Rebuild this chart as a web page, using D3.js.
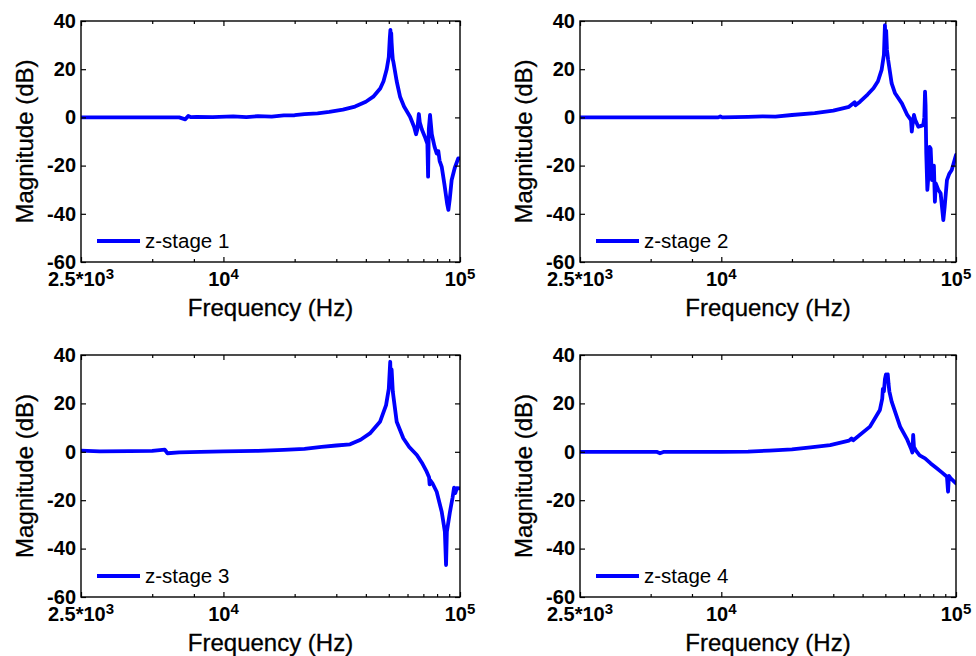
<!DOCTYPE html>
<html>
<head>
<meta charset="utf-8">
<script src="https://cdn.jsdelivr.net/npm/d3@7"></script>
<style>
  html, body { margin: 0; padding: 0; background: #fff; }
  svg { display: block; }
  .tick-label { font-family: "Liberation Sans", Arial, sans-serif; font-weight: bold; font-size: 20px; fill: #000; }
  .axis-title { font-family: "Liberation Sans", Arial, sans-serif; font-size: 24px; fill: #000; stroke: #000; stroke-width: 0.3px; }
  .legend-text { font-family: "Liberation Sans", Arial, sans-serif; font-size: 20.5px; fill: #000; }
</style>
</head>
<body>
<svg id="chart" width="976" height="656"></svg>
<script>
// Axis ticks
const freqMajorTicks = [2500, 1e4, 1e5];
const freqMajorLabels = [["2.5*10", "3"], ["10", "4"], ["10", "5"]];
const freqMinorTicks = [5000, 7500, 20000, 30000, 40000, 50000, 60000, 70000, 80000, 90000];
const magTicks = [-60, -40, -20, 0, 20, 40];

// Series names
const stageNames = ["z-stage 1", "z-stage 2", "z-stage 3", "z-stage 4"];

// z-stage 1: frequency (Hz) and magnitude (dB)
const freq1 = [2500, 4000, 6500, 6900, 7100, 7300, 7700, 9000, 11000, 12500, 14000, 16000, 18000, 20000, 22000, 25000, 28000, 32000, 36000, 40000, 43000, 46000, 47500, 49000, 50000, 50500, 50800, 51000, 51200, 51400, 51700, 52000, 52300, 54000, 55800, 58000, 61500, 64000, 65200, 66000, 67000, 67600, 69000, 71000, 72800, 73300, 73800, 74700, 76000, 78000, 79700, 81000, 82000, 83700, 86000, 88300, 89300, 90500, 92200, 95000, 98300, 100000];
const mag1 = [0, 0, 0, -0.8, 0.6, 0.1, 0.2, 0.1, 0.4, 0.1, 0.5, 0.3, 0.8, 0.9, 1.4, 1.7, 2.3, 3.2, 4.5, 6.5, 8.6, 12, 15, 20, 25, 33, 36.3, 29, 35, 31, 27, 24, 23, 15, 8.6, 4.5, 0.3, -4, -7, -5, 1.4, -2, -5, -8, -11, -24.6, -5, 1.0, -7, -12, -15, -14, -18, -20.5, -28, -36, -38.4, -34, -26, -21, -17, -17];

// z-stage 2
const freq2 = [2500, 9700, 9900, 10100, 13000, 15000, 17000, 20000, 25000, 30000, 35000, 37000, 37300, 39000, 42000, 44500, 46500, 48200, 49300, 49800, 50100, 50400, 50800, 51400, 53200, 55000, 58800, 62000, 64300, 64800, 65300, 66200, 67000, 69100, 71000, 72500, 73300, 73800, 74200, 74700, 75500, 76200, 77200, 78000, 79000, 80500, 81300, 82000, 84000, 86000, 88300, 89500, 91500, 93500, 95900, 100000];
const mag2 = [0, 0, 0.4, 0, 0.2, 0.4, 0.3, 1.0, 1.8, 2.8, 4.4, 6.3, 5, 6.5, 9.5, 12.1, 15, 19.7, 26, 38.3, 30, 36, 28, 23.8, 14.1, 10, 5.8, 1, -1.1, -5.9, -3, 1.0, -1, -3.9, -3.5, -3.2, 0, 10.7, 5, -15, -30.1, -25, -12.2, -13, -26, -20, -35, -27.4, -30, -31.5, -42.6, -37, -26, -23.5, -21.8, -15.6];

// z-stage 3
const freq3 = [2500, 3000, 4000, 5000, 5650, 5800, 6500, 8000, 10000, 14000, 18000, 22000, 26000, 30000, 34300, 38000, 41600, 45900, 48700, 50000, 50700, 51000, 51400, 52000, 54000, 57600, 61000, 65700, 69000, 72300, 74000, 74400, 74800, 76500, 79700, 83700, 86300, 87300, 88000, 90700, 93000, 94400, 95500, 97000, 100000];
const mag3 = [0.5, 0.2, 0.3, 0.4, 0.9, -0.6, -0.2, 0, 0.2, 0.4, 0.8, 1.2, 2.0, 2.6, 3.1, 5, 7.6, 12.4, 19.3, 26, 37.2, 28, 34, 24.8, 12.4, 5.6, 2, -1.3, -4.5, -8.2, -10.5, -13.5, -11.7, -13, -16.5, -24.8, -33, -46.8, -33, -24.8, -19, -14.8, -17.1, -15, -15.1];

// z-stage 4
const freq4 = [2500, 5300, 5480, 5700, 10000, 13000, 16000, 20000, 24000, 29100, 35000, 35900, 36500, 43000, 47400, 48500, 48800, 49300, 49800, 50300, 50700, 51200, 51600, 52000, 53200, 57800, 62000, 64500, 65200, 65700, 66200, 67500, 70000, 73800, 78000, 82800, 87000, 91500, 92500, 93300, 95000, 100000];
const mag4 = [0, 0, -0.6, 0, 0, 0.1, 0.5, 1, 1.8, 2.8, 4.6, 5.5, 4.8, 10.4, 17.3, 22, 26, 25, 30, 32, 31, 32, 28, 25, 20.7, 10.4, 5, 1, -0.3, 7, 2, 0.5, -1.5, -2.7, -4.8, -6.8, -8.5, -10.3, -16.5, -10, -11, -13];

const seriesFreq = [freq1, freq2, freq3, freq4];
const seriesMag = [mag1, mag2, mag3, mag4];

// Plot rectangles for the 2x2 grid
const panels = [
  { left: 81, top: 21, width: 379, height: 241 },
  { left: 580, top: 21, width: 376, height: 241 },
  { left: 81, top: 355, width: 379, height: 242 },
  { left: 580, top: 355, width: 376, height: 242 }
];

const svg = d3.select("#chart");
const lineColor = "#0000ff";

panels.forEach((p, i) => {
  const x = d3.scaleLog().domain([2500, 1e5]).range([0, p.width]);
  const y = d3.scaleLinear().domain([-60, 40]).range([p.height, 0]);
  const g = svg.append("g").attr("transform", `translate(${p.left},${p.top})`);

  const clipId = "clip" + i;
  g.append("clipPath").attr("id", clipId)
    .append("rect").attr("x", 0).attr("y", -2).attr("width", p.width).attr("height", p.height + 4);

  // Data line
  const pts = seriesFreq[i].map((f, k) => [f, seriesMag[i][k]]);
  g.append("path")
    .datum(pts)
    .attr("clip-path", `url(#${clipId})`)
    .attr("fill", "none")
    .attr("stroke", lineColor)
    .attr("stroke-width", 3.8)
    .attr("stroke-linejoin", "round")
    .attr("stroke-linecap", "round")
    .attr("d", d3.line().x(d => x(d[0])).y(d => y(d[1])));

  // Inward ticks on all four sides
  const styleAxis = sel => {
    sel.select(".domain").remove();
    sel.selectAll(".tick line").attr("stroke", "#000").attr("stroke-width", 1.2);
    sel.selectAll(".tick text").remove();
  };
  g.append("g").attr("transform", `translate(0,${p.height})`)
    .call(d3.axisBottom(x).tickValues(freqMajorTicks).tickSize(-5).tickFormat("")).call(styleAxis);
  g.append("g").attr("transform", `translate(0,${p.height})`)
    .call(d3.axisBottom(x).tickValues(freqMinorTicks).tickSize(-3).tickFormat("")).call(styleAxis);
  g.append("g")
    .call(d3.axisTop(x).tickValues(freqMajorTicks).tickSize(-5).tickFormat("")).call(styleAxis);
  g.append("g")
    .call(d3.axisTop(x).tickValues(freqMinorTicks).tickSize(-3).tickFormat("")).call(styleAxis);
  g.append("g")
    .call(d3.axisLeft(y).tickValues(magTicks).tickSize(-5).tickFormat("")).call(styleAxis);
  g.append("g").attr("transform", `translate(${p.width},0)`)
    .call(d3.axisRight(y).tickValues(magTicks).tickSize(-5).tickFormat("")).call(styleAxis);

  // Box
  g.append("rect").attr("x", 0).attr("y", 0).attr("width", p.width).attr("height", p.height)
    .attr("fill", "none").attr("stroke", "#000").attr("stroke-width", 1.4);

  // Y tick labels
  g.selectAll(".ylab").data(magTicks).enter().append("text")
    .attr("class", "tick-label")
    .attr("x", -5)
    .attr("y", d => y(d))
    .attr("dy", "0.34em")
    .attr("text-anchor", "end")
    .text(d => d);

  // X tick labels with superscript exponents
  freqMajorTicks.forEach((f, k) => {
    const t = g.append("text")
      .attr("class", "tick-label")
      .attr("x", x(f))
      .attr("y", p.height + 24)
      .attr("text-anchor", "middle");
    t.append("tspan").text(freqMajorLabels[k][0]);
    t.append("tspan").attr("dy", -7).attr("font-size", "15px").text(freqMajorLabels[k][1]);
  });

  // Axis titles
  g.append("text").attr("class", "axis-title")
    .attr("x", p.width / 2).attr("y", p.height + 54)
    .attr("text-anchor", "middle")
    .text("Frequency (Hz)");
  g.append("text").attr("class", "axis-title")
    .attr("transform", `translate(-48,${p.height / 2}) rotate(-90)`)
    .attr("text-anchor", "middle")
    .text("Magnitude (dB)");

  // Legend
  const ly = p.height - 21;
  g.append("line").attr("x1", 16).attr("x2", 59).attr("y1", ly).attr("y2", ly)
    .attr("stroke", lineColor).attr("stroke-width", 3.8);
  g.append("text").attr("class", "legend-text")
    .attr("x", 64).attr("y", ly).attr("dy", "0.36em")
    .text(stageNames[i]);
});
</script>
</body>
</html>
